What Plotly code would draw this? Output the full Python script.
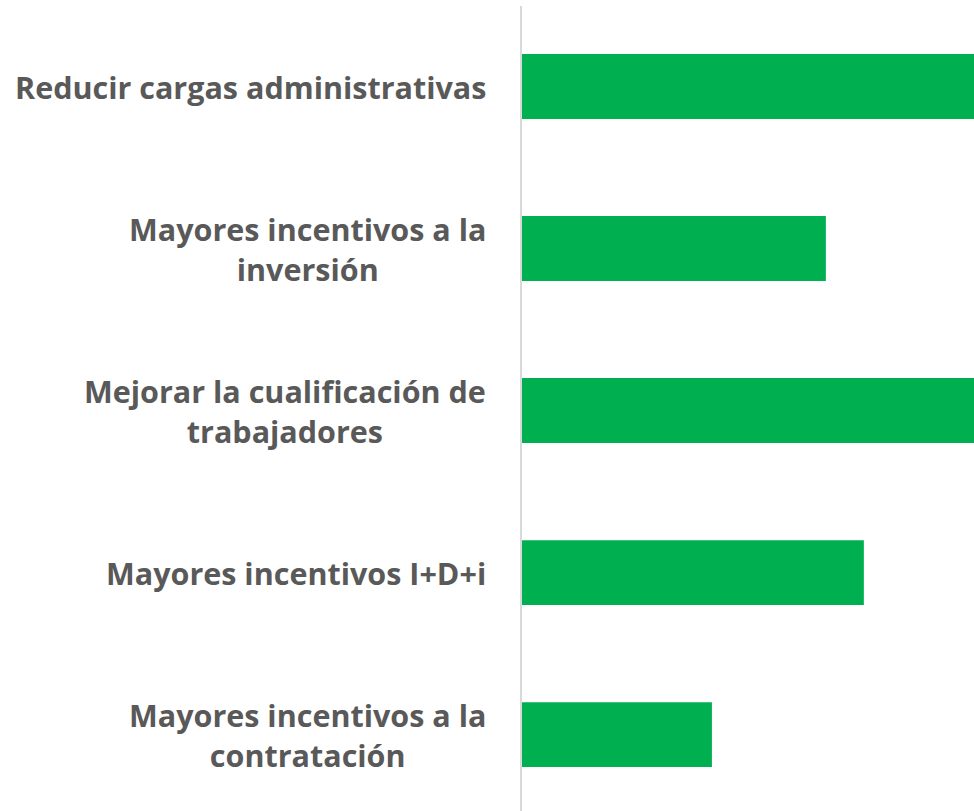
import plotly.graph_objects as go

categories = [
    "Reducir cargas administrativas",
    "Mayores incentivos a la inversión",
    "Mejorar la cualificación de trabajadores",
    "Mayores incentivos I+D+i",
    "Mayores incentivos a la contratación",
]
labels = [
    "Reducir cargas administrativas",
    "Mayores incentivos a la<br>inversión",
    "Mejorar la cualificación de<br>trabajadores",
    "Mayores incentivos I+D+i",
    "Mayores incentivos a la<br>contratación",
]
values = [54, 32, 52, 36, 20]

fig = go.Figure(go.Bar(
    x=values, y=categories, orientation="h",
    marker=dict(color="#00B050", line=dict(width=0)),
    hoverinfo="skip",
))

for cat, lab in zip(categories, labels):
    fig.add_annotation(
        x=0, xref="paper", xanchor="right", xshift=-34,
        y=cat, yref="y", yanchor="middle",
        text=lab, showarrow=False, align="center",
        font=dict(family="Open Sans", size=30.5, color="#595959", weight="bold"),
    )

fig.update_layout(
    width=974, height=811,
    margin=dict(l=522, r=0, t=6, b=0),
    paper_bgcolor="white", plot_bgcolor="white",
    bargap=0.6, showlegend=False,
    xaxis=dict(range=[0, 47.6], visible=False, fixedrange=True),
    yaxis=dict(type="category", range=[4.472, -0.497], showticklabels=False,
               showline=True, linecolor="#D9D9D9", linewidth=2,
               showgrid=False, zeroline=False, ticks="", fixedrange=True),
)
fig.write_html("out.html", config={"displayModeBar": False},
               post_script="document.body.style.margin='0';document.body.style.overflow='hidden';")
